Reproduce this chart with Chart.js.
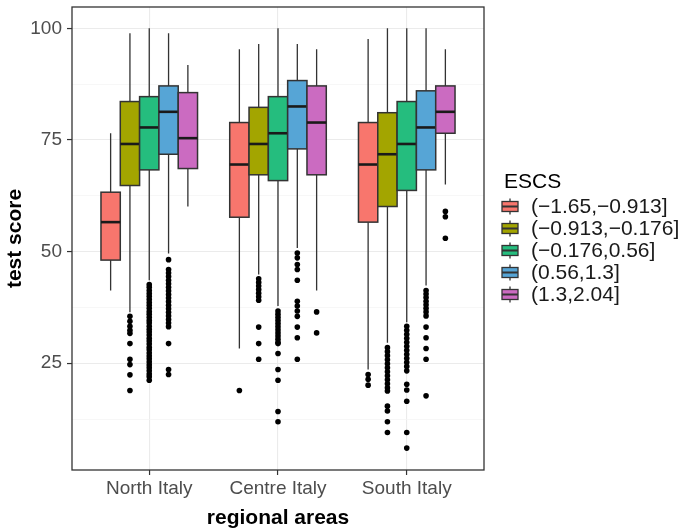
<!DOCTYPE html>
<html>
<head>
<meta charset="utf-8">
<script src="https://cdn.jsdelivr.net/npm/chart.js@4.4.1/dist/chart.umd.min.js"></script>
<style>
  html, body { margin: 0; padding: 0; background: #fff; }
  #wrap { width: 683px; height: 528px; }
</style>
</head>
<body>
<div id="wrap"><canvas id="boxChart" width="683" height="528"></canvas></div>
<script>
const areas = ['North Italy', 'Centre Italy', 'South Italy'];
const escsClasses = ['(\u22121.65,\u22120.913]', '(\u22120.913,\u22120.176]', '(\u22120.176,0.56]', '(0.56,1.3]', '(1.3,2.04]'];
const escsColors = ['#F8766D', '#A3A500', '#25BD7E', '#56A5D6', '#CB6BC1'];
const yTickValues = [25, 50, 75, 100];

// [lower whisker, q1, median, q3, upper whisker] for each area
const statsLowest  = [[41.3, 48.1, 56.6, 63.3, 76.5], [28.3, 57.7, 69.5, 78.9, 95.3], [23.6, 56.6, 69.5, 78.9, 97.6]];
const statsLow     = [[36.4, 64.8, 74.1, 83.6, 98.9], [44.9, 67.2, 74.1, 82.3, 96.5], [29.6, 60.1, 71.8, 81.1, 100]];
const statsMid     = [[43.6, 68.3, 77.8, 84.7, 100], [37.8, 65.9, 76.5, 84.7, 100], [34.2, 63.7, 74.1, 83.6, 100]];
const statsHigh    = [[49.6, 71.8, 81.3, 87.1, 98.9], [50.8, 73.0, 82.5, 88.3, 96.5], [42.4, 68.3, 77.8, 86.0, 100]];
const statsHighest = [[60.1, 68.6, 75.4, 85.6, 91.8], [41.3, 67.2, 78.9, 87.1, 95.3], [65.0, 76.5, 81.3, 87.1, 95.3]];

// outliers for each area
const outLowest = [[], [18.9], [22.5, 21.4, 20.1]];
const outLow = [
  [35.5, 34.4, 33.3, 32.4, 31.7, 29.4, 25.9, 24.7, 22.4, 18.9],
  [43.9, 43.1, 42.3, 41.5, 40.7, 39.9, 39.1, 33.1, 29.4, 25.9],
  [28.5, 27.6, 26.7, 25.8, 24.9, 24.0, 23.1, 22.2, 21.3, 20.4, 19.5, 18.8, 15.4, 14.3, 11.9, 9.5]
];
const outMid = [
  [42.6, 42.0, 41.3, 40.6, 40.0, 39.3, 38.6, 38.0, 37.3, 36.6, 36.0, 35.3, 34.6, 34.0, 33.3, 32.6, 32.0,
   31.3, 30.6, 30.0, 29.3, 28.6, 28.0, 27.3, 26.6, 26.0, 25.3, 24.6, 24.0, 23.3, 22.6, 22.0, 21.2],
  [36.7, 36.0, 35.3, 34.6, 33.9, 33.2, 32.5, 31.8, 31.1, 30.4, 29.7, 29.4, 27.2, 23.6, 21.2, 14.2, 11.9],
  [33.3, 32.4, 31.5, 30.6, 29.7, 28.8, 27.9, 27.0, 26.1, 25.2, 24.3, 23.3, 20.3, 19.0, 16.5, 9.5, 6.0]
];
const outHigh = [
  [48.2, 46.0, 45.2, 44.4, 43.6, 42.8, 42.0, 41.2, 40.4, 39.6, 38.8, 38.0, 37.2, 36.4, 35.6, 34.8, 34.0, 33.2, 29.4, 23.6, 22.5],
  [49.7, 48.6, 47.1, 46.0, 43.6, 38.9, 37.8, 36.7, 35.5, 33.1, 30.7, 25.9],
  [41.3, 40.5, 39.7, 38.9, 38.1, 37.3, 36.5, 35.6, 33.1, 30.7, 28.3, 25.9, 17.7]
];
const outHighest = [[], [36.5, 31.8], [59.0, 57.8, 53.0]];

const allStats = [statsLowest, statsLow, statsMid, statsHigh, statsHighest];
const allOutliers = [outLowest, outLow, outMid, outHigh, outHighest];

const dodge = 0.15; // width of one box in category units

function xPos(area, k) {
  return area + 1 + (k - 2) * dodge;
}

const datasets = allOutliers.map((outs, k) => ({
  label: escsClasses[k],
  data: outs.flatMap((vals, a) => vals.map(v => ({ x: xPos(a, k), y: v }))),
  pointRadius: 2.8,
  pointBackgroundColor: '#000',
  pointBorderWidth: 0
}));

const boxPlugin = {
  id: 'boxes',
  beforeDatasetsDraw(chart) {
    const { ctx, scales: { x, y } } = chart;
    const half = (x.getPixelForValue(dodge) - x.getPixelForValue(0)) / 2;
    ctx.save();
    allStats.forEach((stats, k) => {
      stats.forEach((s, a) => {
        const cx = x.getPixelForValue(xPos(a, k));
        const [lo, q1, med, q3, hi] = s.map(v => y.getPixelForValue(v));
        ctx.strokeStyle = '#333';
        ctx.lineWidth = 1.3;
        ctx.beginPath();
        ctx.moveTo(cx, hi); ctx.lineTo(cx, q3);
        ctx.moveTo(cx, q1); ctx.lineTo(cx, lo);
        ctx.stroke();
        ctx.fillStyle = escsColors[k];
        ctx.fillRect(cx - half, q3, half * 2, q1 - q3);
        ctx.lineWidth = 1.5;
        ctx.strokeRect(cx - half, q3, half * 2, q1 - q3);
        ctx.strokeStyle = '#1a1a1a';
        ctx.lineWidth = 2.6;
        ctx.beginPath();
        ctx.moveTo(cx - half, med); ctx.lineTo(cx + half, med);
        ctx.stroke();
      });
    });
    ctx.restore();
  },
  afterDraw(chart) {
    const { ctx, chartArea } = chart;
    ctx.save();
    ctx.strokeStyle = '#333';
    ctx.lineWidth = 1.3;
    ctx.strokeRect(chartArea.left, chartArea.top, chartArea.right - chartArea.left, chartArea.bottom - chartArea.top);

    // legend
    const lx = chartArea.right + 18;
    const midY = (chartArea.top + chartArea.bottom) / 2;
    const rowH = 22;
    const firstY = midY - 32;
    ctx.font = '21px "Liberation Sans", Arial, sans-serif';
    ctx.fillStyle = '#000';
    ctx.textBaseline = 'middle';
    ctx.fillText('ESCS', lx + 2, firstY - 24);
    escsClasses.forEach((label, k) => {
      const cy = firstY + k * rowH;
      const cx = lx + 8;
      ctx.strokeStyle = '#333';
      ctx.lineWidth = 1.3;
      ctx.beginPath();
      ctx.moveTo(cx, cy - 8); ctx.lineTo(cx, cy + 8);
      ctx.stroke();
      ctx.fillStyle = escsColors[k];
      ctx.fillRect(lx, cy - 5, 16, 10);
      ctx.strokeRect(lx, cy - 5, 16, 10);
      ctx.lineWidth = 2;
      ctx.beginPath();
      ctx.moveTo(lx, cy); ctx.lineTo(lx + 16, cy);
      ctx.stroke();
      ctx.fillStyle = '#1a1a1a';
      ctx.fillText(label, lx + 29, cy + 1);
    });
    ctx.restore();
  }
};

Chart.defaults.font.family = '"Liberation Sans", Arial, sans-serif';

new Chart(document.getElementById('boxChart'), {
  type: 'scatter',
  data: { datasets: datasets },
  options: {
    responsive: false,
    animation: false,
    events: [],
    layout: { padding: { left: 0, right: 199, top: 7, bottom: 0 } },
    plugins: { legend: { display: false }, tooltip: { enabled: false } },
    scales: {
      x: {
        type: 'linear',
        min: 0.4,
        max: 3.6,
        afterBuildTicks: s => { s.ticks = [1, 2, 3].map(v => ({ value: v })); },
        afterFit: s => { s.height = 58; s.paddingLeft = 0; s.paddingRight = 0; },
        border: { display: false },
        grid: { color: '#EBEBEB', lineWidth: 1.1, tickColor: '#333', tickLength: 5, tickWidth: 1.2 },
        ticks: {
          padding: 2,
          color: '#4D4D4D',
          font: { size: 19 },
          callback: v => areas[v - 1]
        },
        title: {
          display: true,
          text: 'regional areas',
          color: '#000',
          font: { size: 21, weight: 'bold', lineHeight: 0.9 },
          padding: { top: 0, bottom: 0 }
        }
      },
      y: {
        min: 1.1,
        max: 104.77,
        afterBuildTicks: s => { s.ticks = [12.5, 25, 37.5, 50, 62.5, 75, 87.5, 100].map(v => ({ value: v })); },
        afterFit: s => { s.width = 72; s.paddingTop = 0; s.paddingBottom = 0; },
        border: { display: false },
        grid: {
          color: c => yTickValues.includes(c.tick.value) ? '#EBEBEB' : '#F4F4F4',
          lineWidth: c => yTickValues.includes(c.tick.value) ? 1.1 : 0.7,
          tickColor: c => yTickValues.includes(c.tick.value) ? '#333' : 'rgba(0,0,0,0)',
          tickLength: 5,
          tickWidth: 1.2
        },
        ticks: {
          padding: 5,
          color: '#4D4D4D',
          font: { size: 19 },
          callback: v => yTickValues.includes(v) ? v : ''
        },
        title: {
          display: true,
          text: 'test score',
          color: '#000',
          font: { size: 21, weight: 'bold', lineHeight: 1 },
          padding: { top: 4.5, bottom: 0 }
        }
      }
    }
  },
  plugins: [boxPlugin]
});
</script>
</body>
</html>
